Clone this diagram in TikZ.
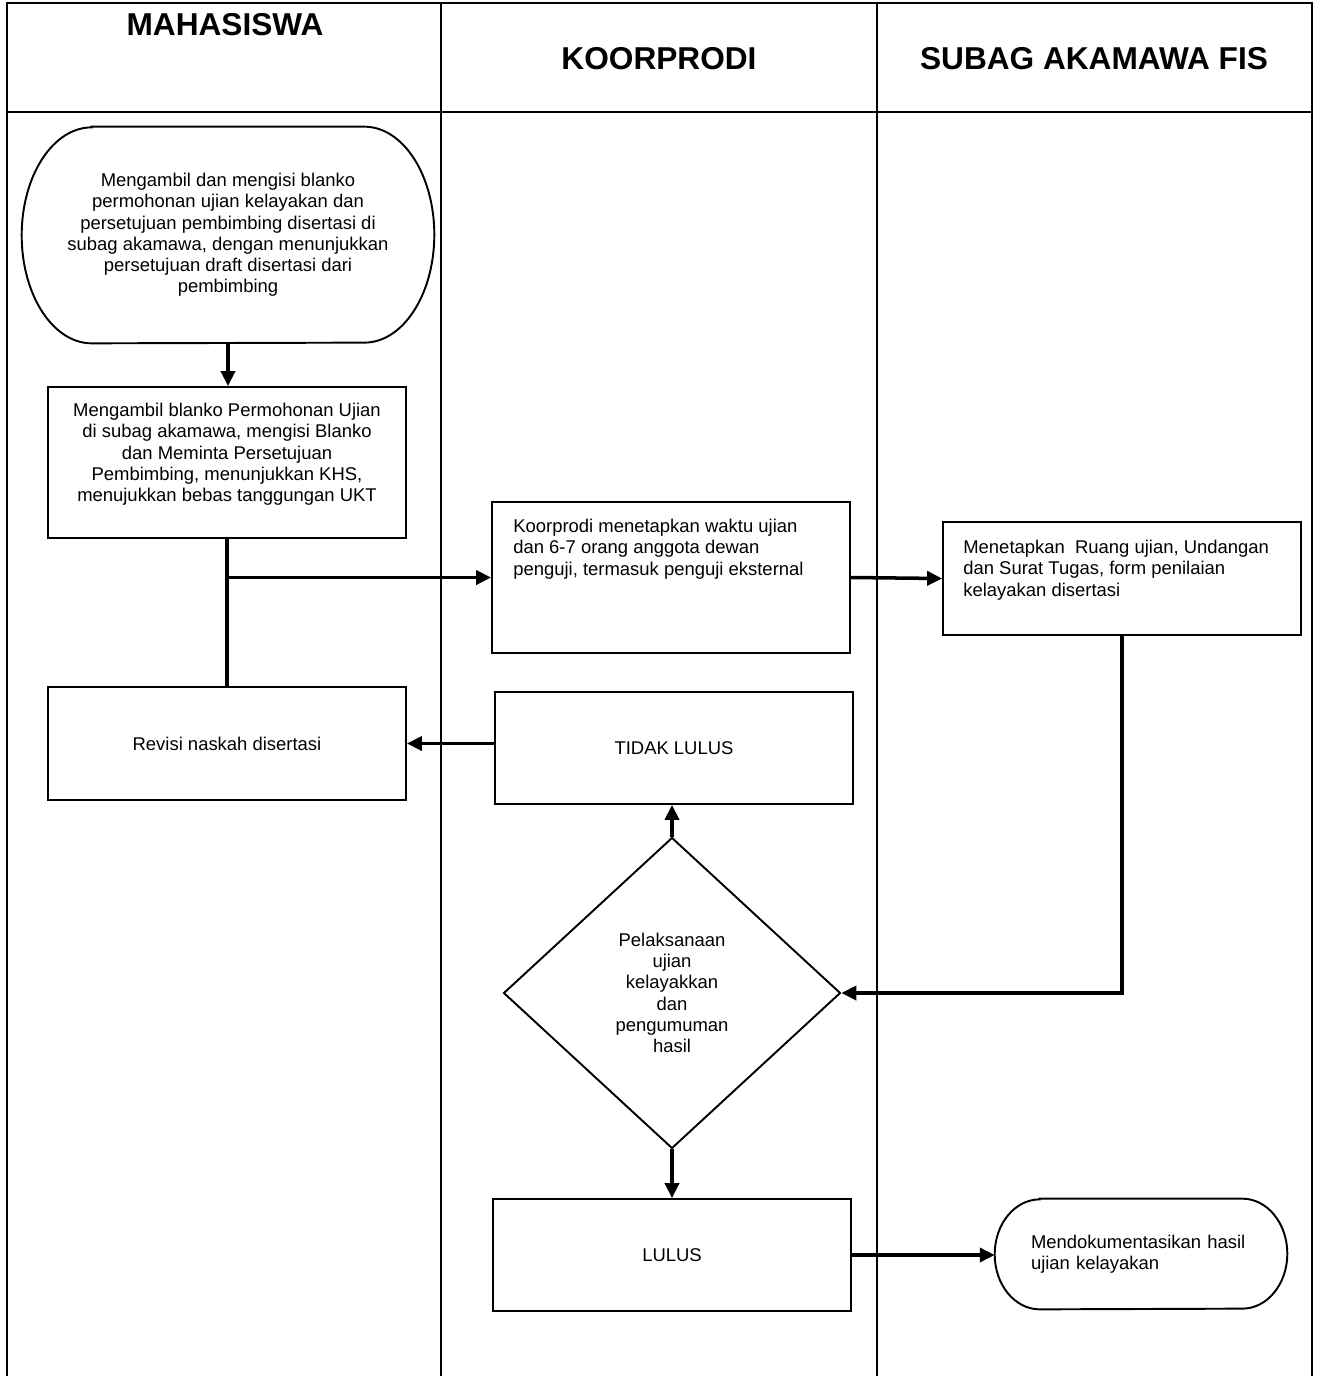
\documentclass[tikz,border=0pt]{standalone}
\usepackage{fontspec}
\setmainfont{Liberation Sans}
\usetikzlibrary{shapes.geometric,arrows.meta}

\begin{document}
\begin{tikzpicture}[x=0.02cm, y=-0.02cm,
    lane/.style={line width=1pt},
    head/.style={font=\bfseries\fontsize{18}{21}\selectfont},
    box/.style={draw, line width=1.1pt, inner sep=0pt, minimum width=7.16cm,
        font=\fontsize{10.5}{12.1}\selectfont},
    txt/.style={inner sep=0pt, font=\fontsize{10.5}{12.1}\selectfont},
    flow/.style={line width=2pt, -{Triangle[length=8.5pt, width=8pt]}}]

    \useasboundingbox (0,0) rectangle (1316,1376);

    %% Lanes
    \draw[lane] (7,1376) -- (7,3) -- (1312,3) -- (1312,1376);
    \draw[lane] (441,3) -- (441,1376);
    \draw[lane] (877,3) -- (877,1376);
    \draw[line width=1.3pt] (7,112) -- (1312,112);
    \node[head] (hmhs) at (225,25) {MAHASISWA};
    \node[head] (hkoor) at (659,59) {KOORPRODI};
    \node[head] (hsubag) at (1094,59) {SUBAG AKAMAWA FIS};

    %% Mahasiswa
    \node[txt, align=center, minimum width=8.24cm, minimum height=4.32cm] (start) at (228,235)
        {Mengambil dan mengisi blanko\\ permohonan ujian kelayakan dan\\
         persetujuan pembimbing disertasi di\\ subag akamawa, dengan menunjukkan\\
         persetujuan draft disertasi dari\\ pembimbing};
    \draw[line width=1.1pt] ([xshift=1.4cm]start.north west) -- ([xshift=-1.4cm]start.north east)
        arc[start angle=90, end angle=-90, x radius=1.4cm, y radius=2.16cm]
        -- ([xshift=1.4cm]start.south west)
        arc[start angle=270, end angle=90, x radius=1.4cm, y radius=2.16cm] -- cycle;

    \node[box, minimum height=3.02cm] (ambil) at (227,462.5) {};
    \node[txt, align=center, anchor=north] (ambilteks) at (227,403)
        {Mengambil blanko Permohonan Ujian\\ di subag akamawa, mengisi Blanko\\
         dan Meminta Persetujuan\\ Pembimbing, menunjukkan KHS,\\
         menujukkan bebas tanggungan UKT};

    \node[box, minimum height=2.26cm] (revisi) at (227,743.5) {Revisi naskah disertasi};

    %% Koorprodi
    \node[box, minimum height=3.02cm] (tetap) at (671,577.5) {};
    \node[txt, align=left, anchor=north west] (tetapteks) at (513,519)
        {Koorprodi menetapkan waktu ujian\\ dan 6-7 orang anggota dewan\\
         penguji, termasuk penguji eksternal};

    \node[box, minimum height=2.24cm] (tidak) at (674,748) {TIDAK LULUS};

    \node[box, diamond, minimum width=6.74cm, minimum height=6.22cm, align=center] (uji) at (672,993)
        {Pelaksanaan\\ ujian\\ kelayakkan\\ dan\\ pengumuman\\ hasil};

    \node[box, minimum height=2.24cm] (lulus) at (672,1255) {LULUS};

    %% Subag Akamawa
    \node[box, minimum height=2.26cm] (ruang) at (1122,578.5) {};
    \node[txt, align=left, anchor=north west] (ruangteks) at (963,540)
        {Menetapkan\ \ Ruang ujian, Undangan\\ dan Surat Tugas, form penilaian\\
         kelayakan disertasi};

    \node[txt, align=left, text width=4.4cm, minimum width=5.84cm, minimum height=2.2cm] (dok) at (1141,1254)
        {Mendokumentasikan hasil\\ ujian kelayakan};
    \draw[line width=1.1pt] ([xshift=0.9cm]dok.north west) -- ([xshift=-0.9cm]dok.north east)
        arc[start angle=90, end angle=-90, x radius=0.9cm, y radius=1.1cm]
        -- ([xshift=0.9cm]dok.south west)
        arc[start angle=270, end angle=90, x radius=0.9cm, y radius=1.1cm] -- cycle;

    %% Connectors
    \draw[flow] (start.south) -- (start.south |- ambil.north);
    \draw[line width=2pt] (ambil.south) -- (revisi.north);
    \coordinate (cabang) at (ambil.south |- tetap.west);
    \draw[flow] (cabang) -- (tetap.west);
    \draw[flow] (tetap.east) -- (ruang.west);
    \draw[flow] (ruang.south) |- (uji.east);
    \draw[flow] (tidak.west |- revisi.east) -- (revisi.east);
    \draw[flow] (uji.north) -- (uji.north |- tidak.south);
    \draw[flow] (uji.south) -- (uji.south |- lulus.north);
    \draw[flow] (lulus.east) -- (lulus.east -| dok.west);

\end{tikzpicture}
\end{document}
